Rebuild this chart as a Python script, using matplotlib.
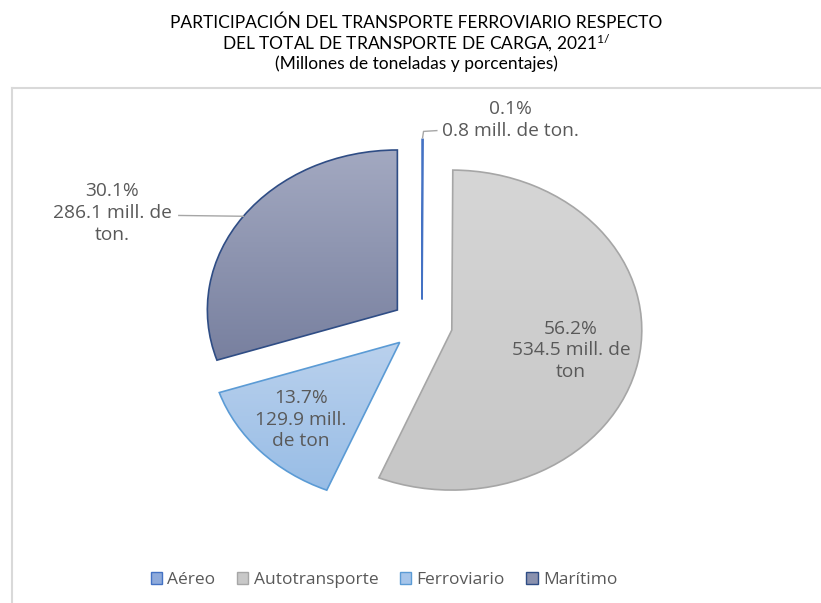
import numpy as np
import matplotlib
matplotlib.use("Agg")
import matplotlib.pyplot as plt
from matplotlib.colors import LinearSegmentedColormap
from matplotlib.patches import Patch
from matplotlib.lines import Line2D

plt.rcParams['font.family'] = ['Open Sans', 'DejaVu Sans']
plt.rcParams['mathtext.default'] = 'regular'

# data (millones de toneladas)
categorias = ['Aéreo', 'Autotransporte', 'Ferroviario', 'Marítimo']
toneladas = [0.8, 534.5, 129.9, 286.1]
porcentajes = [0.1, 56.2, 13.7, 30.1]
etiquetas = ['0.1%\n0.8 mill. de ton.',
             '56.2%\n534.5 mill. de\nton',
             '13.7%\n129.9 mill.\nde ton',
             '30.1%\n286.1 mill. de\nton.']

# styles
grad_top = ['#a9bde3', '#d6d6d6', '#bad1ed', '#a3a9c1']
grad_bot = ['#7f9bd3', '#c6c6c6', '#98bde6', '#78809f']
edges = ['#4472c4', '#a6a6a6', '#5b9bd5', '#2f4d85']
legend_face = ['#8eaadb', '#c8c8c8', '#a6c5ea', '#8a91ae']
txt_color = '#595959'

W, H = 821, 603
cx, cy, rx, ry = 422, 325, 190, 160   # pie centre and radii in pixels

fig = plt.figure(figsize=(W / 100, H / 100), dpi=100)
ax = fig.add_axes([0, 0, 1, 1])

wedges, _ = ax.pie(toneladas, startangle=90, counterclock=False,
                   explode=[0.16] * 4,
                   wedgeprops=dict(linewidth=1.2))

for w, c0, c1, ec in zip(wedges, grad_top, grad_bot, edges):
    w.set_facecolor('none')
    w.set_edgecolor(ec)
    w.set_zorder(3)
    bb = w.get_path().get_extents()
    cmap = LinearSegmentedColormap.from_list('g', [c0, c1])
    grad = np.linspace(0, 1, 256).reshape(-1, 1)
    im = ax.imshow(grad, cmap=cmap, aspect='auto', origin='upper',
                   extent=[bb.x0, bb.x1, bb.y0, bb.y1], zorder=2)
    im.set_clip_path(w)


def wedge_point(w, ang, r):
    t = np.deg2rad(ang)
    return w.center[0] + r * np.cos(t), w.center[1] + r * np.sin(t)


def mid(w):
    return (w.theta1 + w.theta2) / 2


lbl = dict(ha='center', va='center', color=txt_color, fontsize=13.8,
           linespacing=1.27, zorder=5)

# Autotransporte and Ferroviario labels inside
x, y = wedge_point(wedges[1], mid(wedges[1]), 0.64)
ax.text(x, y, etiquetas[1], **lbl)
x, y = wedge_point(wedges[2], mid(wedges[2]), 0.71)
ax.text(x, y, etiquetas[2], **lbl)

# Marítimo label outside with leader line
x0, y0 = wedge_point(wedges[3], mid(wedges[3]), 1.0)
ax.plot([x0, -1.28], [y0, y0 + 0.005], color='#a6a6a6', lw=1.0, zorder=4)
ax.text(-1.63, y0 + 0.02, etiquetas[3], **lbl)

# Aéreo label above with bent leader line
x0, y0 = wedge_point(wedges[0], mid(wedges[0]), 1.0)
ax.plot([x0, x0 + 0.005, x0 + 0.075], [y0 + 0.01, 1.21, 1.215],
        color='#a6a6a6', lw=1.0, zorder=4)
ax.text(0.465, 1.28, etiquetas[0], **lbl)

ax.set_aspect('auto')
ax.set_xlim((0 - cx) / rx, (W - cx) / rx)
ax.set_ylim((cy - H) / ry, cy / ry)
ax.axis('off')

# chart area border
fig.add_artist(Line2D([12 / W, 1], [1 - 88 / H, 1 - 88 / H],
                      color='#d9d9d9', lw=1.5))
fig.add_artist(Line2D([12 / W, 12 / W], [0, 1 - 88 / H],
                      color='#d9d9d9', lw=1.5))

fig.text(416 / W, 1 - 43 / H,
         'PARTICIPACIÓN DEL TRANSPORTE FERROVIARIO RESPECTO\n'
         'DEL TOTAL DE TRANSPORTE DE CARGA, 2021$^{1/}$\n'
         '(Millones de toneladas y porcentajes)',
         ha='center', va='center', fontsize=12.5, family='Lato',
         linespacing=1.12, color='black')

handles = [Patch(facecolor=f, edgecolor=e, linewidth=1.0)
           for f, e in zip(legend_face, edges)]
fig.legend(handles, categorias, loc='center', ncol=4, frameon=False,
           bbox_to_anchor=(384 / W, 1 - 580 / H),
           handlelength=0.65, handleheight=0.65, handletextpad=0.3,
           columnspacing=1.25, labelcolor=txt_color,
           prop=dict(size=12.5))

fig.savefig('out.png', dpi=100)
